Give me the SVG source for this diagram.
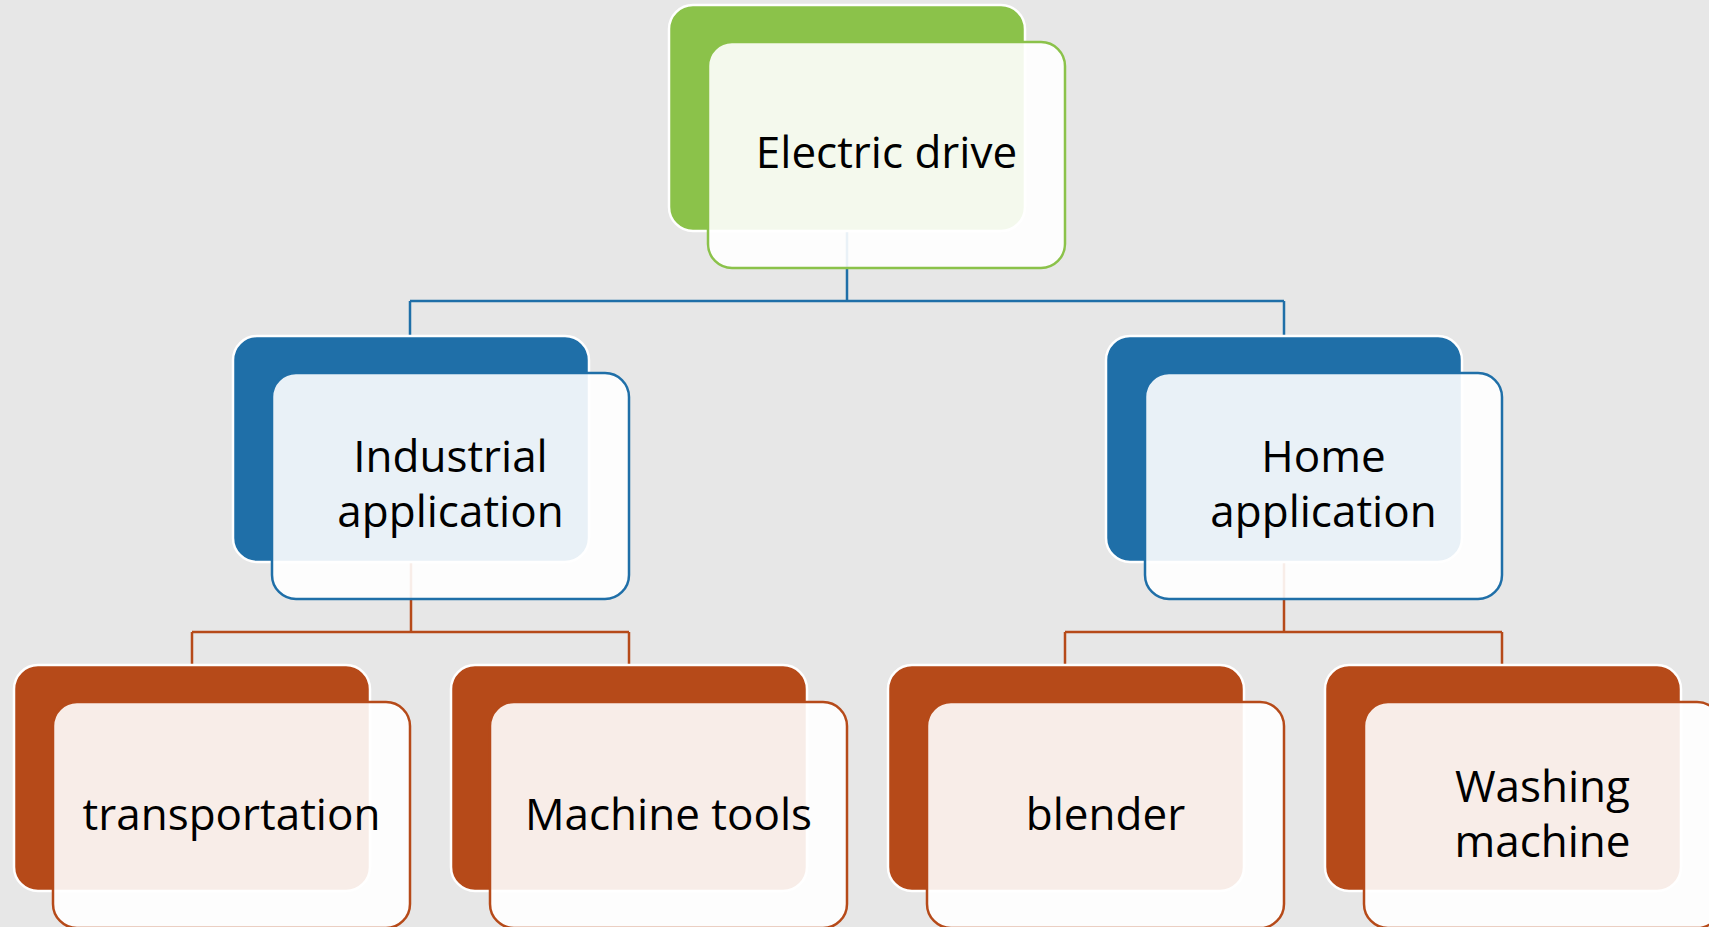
<svg xmlns="http://www.w3.org/2000/svg" width="1709" height="927" viewBox="0 0 1709 927">
  <style>
    .bg { fill: #e7e7e7; }
    .back { stroke: #ffffff; stroke-width: 2.5; }
    .front { fill: #ffffff; fill-opacity: 0.9; stroke-width: 2.5; }
    .g .back { fill: #8bc24a; }
    .g .front { stroke: #8bc24a; }
    .b .back { fill: #1f6fa8; }
    .b .front { stroke: #1f6fa8; }
    .r .back { fill: #b64a19; }
    .r .front { stroke: #b64a19; }
    .label { font-family: "Open Sans", "Liberation Sans", sans-serif; font-size: 44px; fill: #000000; text-anchor: middle; }
    .conn { fill: none; stroke-width: 2.5; }
    .conn-b { stroke: #1f6fa8; }
    .conn-r { stroke: #b64a19; }
  </style>

  <rect class="bg" x="0" y="0" width="1709" height="927"/>

  <!-- connectors sit beneath the cards -->
  <g id="connectors">
    <path class="conn conn-b" d="M847 230 V301 M410 301 H1284 M410 301 V336 M1284 301 V336"/>
    <path class="conn conn-r" d="M411 560 V632 M192 632 H629 M192 632 V665 M629 632 V665"/>
    <path class="conn conn-r" d="M1284 560 V632 M1065 632 H1502 M1065 632 V665 M1502 632 V665"/>
  </g>

  <g id="node-electric-drive" class="g">
    <rect class="back" x="669" y="5" width="356" height="226" rx="24"/>
    <rect class="front" x="708" y="42" width="357" height="226" rx="24"/>
    <text class="label" x="886.5" y="168">Electric drive</text>
  </g>

  <g id="node-industrial" class="b">
    <rect class="back" x="233" y="336" width="356" height="226" rx="24"/>
    <rect class="front" x="272" y="373" width="357" height="226" rx="24"/>
    <text class="label" x="450.5" y="472">Industrial</text>
    <text class="label" x="450.5" y="527">application</text>
  </g>

  <g id="node-home" class="b">
    <rect class="back" x="1106" y="336" width="356" height="226" rx="24"/>
    <rect class="front" x="1145" y="373" width="357" height="226" rx="24"/>
    <text class="label" x="1323.5" y="472">Home</text>
    <text class="label" x="1323.5" y="527">application</text>
  </g>

  <g id="node-transportation" class="r">
    <rect class="back" x="14" y="665" width="356" height="226" rx="24"/>
    <rect class="front" x="53" y="702" width="357" height="226" rx="24"/>
    <text class="label" x="231.5" y="830">transportation</text>
  </g>

  <g id="node-machine-tools" class="r">
    <rect class="back" x="451" y="665" width="356" height="226" rx="24"/>
    <rect class="front" x="490" y="702" width="357" height="226" rx="24"/>
    <text class="label" x="668.5" y="830">Machine tools</text>
  </g>

  <g id="node-blender" class="r">
    <rect class="back" x="888" y="665" width="356" height="226" rx="24"/>
    <rect class="front" x="927" y="702" width="357" height="226" rx="24"/>
    <text class="label" x="1105.5" y="830">blender</text>
  </g>

  <g id="node-washing-machine" class="r">
    <rect class="back" x="1325" y="665" width="356" height="226" rx="24"/>
    <rect class="front" x="1364" y="702" width="357" height="226" rx="24"/>
    <text class="label" x="1542.5" y="802">Washing</text>
    <text class="label" x="1542.5" y="857">machine</text>
  </g>
</svg>
